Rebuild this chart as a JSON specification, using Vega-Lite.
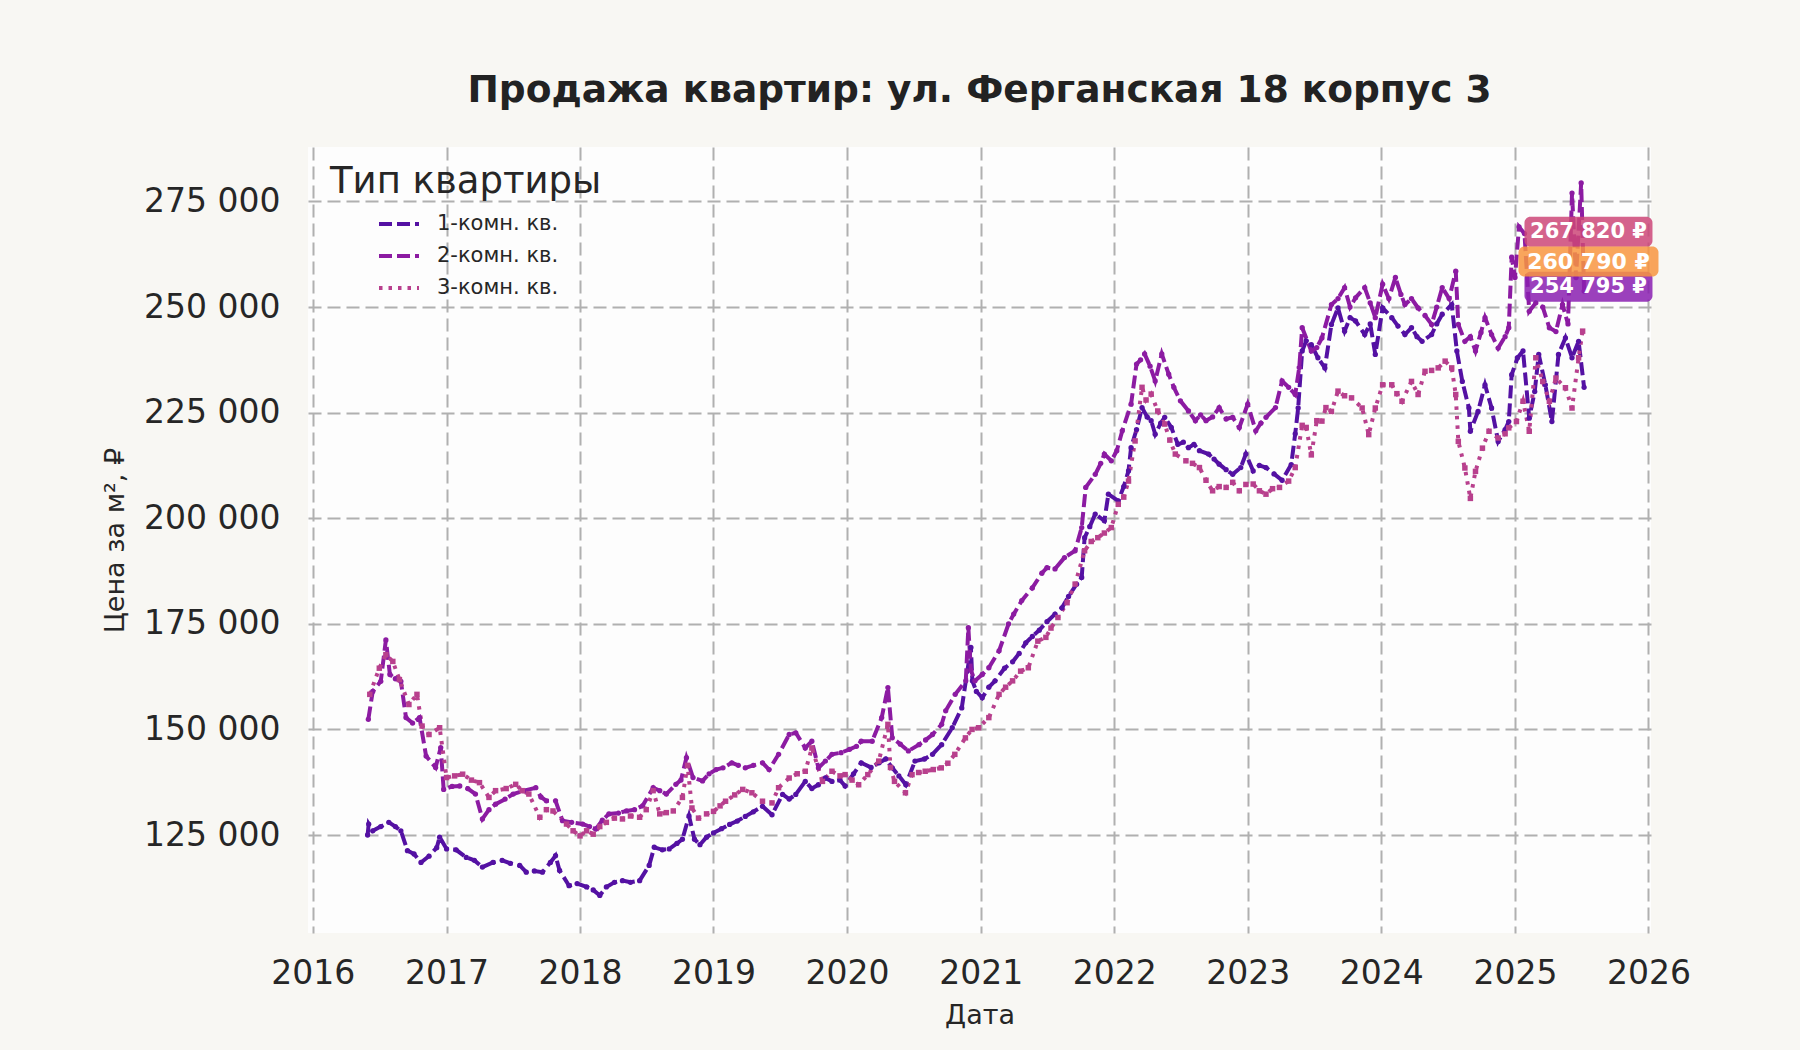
{
"$schema": "https://vega.github.io/schema/vega-lite/v6.json",
"width": 1343, "height": 786,
"autosize": "none",
"padding": {"left": 308, "top": 147, "right": 149, "bottom": 117},
"background": "#f8f7f3",
"title": {"text": "Продажа квартир: ул. Ферганская 18 корпус 3", "fontSize": 37.5, "fontWeight": "bold", "font": "DejaVu Sans", "color": "#222222", "offset": 38, "anchor": "middle"},
"config": {
  "view": {"fill": "#fdfdfd", "stroke": null},
  "font": "DejaVu Sans",
  "axis": {"gridColor": "#b0b0b0", "gridDash": [13, 6], "gridWidth": 2, "domain": false, "ticks": false, "labelColor": "#262626", "titleColor": "#262626", "labelFont": "DejaVu Sans", "titleFont": "DejaVu Sans", "titleFontWeight": "normal", "labelFontSize": 33, "titleFontSize": 27}
},
"datasets": {
"prices": [
{"s":"1-комн. кв.","d":"2016-05-30","v":125000},{"s":"1-комн. кв.","d":"2016-06-02","v":127600},{"s":"1-комн. кв.","d":"2016-06-13","v":126000},{"s":"1-комн. кв.","d":"2016-07-05","v":127000},{"s":"1-комн. кв.","d":"2016-07-27","v":128000},{"s":"1-комн. кв.","d":"2016-08-14","v":127000},{"s":"1-комн. кв.","d":"2016-08-29","v":126000},{"s":"1-комн. кв.","d":"2016-09-16","v":121300},{"s":"1-комн. кв.","d":"2016-10-04","v":120500},{"s":"1-комн. кв.","d":"2016-10-23","v":118500},{"s":"1-комн. кв.","d":"2016-11-14","v":120000},{"s":"1-комн. кв.","d":"2016-12-05","v":122000},{"s":"1-комн. кв.","d":"2016-12-13","v":124500},{"s":"1-комн. кв.","d":"2017-01-01","v":121700},{"s":"1-комн. кв.","d":"2017-01-27","v":121500},{"s":"1-комн. кв.","d":"2017-02-24","v":119700},{"s":"1-комн. кв.","d":"2017-03-18","v":119000},{"s":"1-комн. кв.","d":"2017-04-09","v":117400},{"s":"1-комн. кв.","d":"2017-05-08","v":118500},{"s":"1-комн. кв.","d":"2017-06-02","v":119000},{"s":"1-комн. кв.","d":"2017-06-24","v":118300},{"s":"1-комн. кв.","d":"2017-07-20","v":117800},{"s":"1-комн. кв.","d":"2017-08-07","v":116200},{"s":"1-комн. кв.","d":"2017-08-29","v":116500},{"s":"1-комн. кв.","d":"2017-09-20","v":116200},{"s":"1-комн. кв.","d":"2017-10-12","v":118500},{"s":"1-комн. кв.","d":"2017-10-26","v":120100},{"s":"1-комн. кв.","d":"2017-11-06","v":116600},{"s":"1-комн. кв.","d":"2017-12-02","v":113000},{"s":"1-комн. кв.","d":"2017-12-24","v":113500},{"s":"1-комн. кв.","d":"2018-01-19","v":112700},{"s":"1-комн. кв.","d":"2018-02-06","v":112000},{"s":"1-комн. кв.","d":"2018-02-24","v":110700},{"s":"1-комн. кв.","d":"2018-03-14","v":112700},{"s":"1-комн. кв.","d":"2018-04-05","v":113800},{"s":"1-комн. кв.","d":"2018-04-27","v":114200},{"s":"1-комн. кв.","d":"2018-05-19","v":113800},{"s":"1-комн. кв.","d":"2018-06-13","v":114200},{"s":"1-комн. кв.","d":"2018-07-09","v":117800},{"s":"1-комн. кв.","d":"2018-07-23","v":122100},{"s":"1-комн. кв.","d":"2018-08-14","v":121500},{"s":"1-комн. кв.","d":"2018-09-02","v":121700},{"s":"1-комн. кв.","d":"2018-09-23","v":123000},{"s":"1-комн. кв.","d":"2018-10-08","v":124000},{"s":"1-комн. кв.","d":"2018-10-26","v":129500},{"s":"1-комн. кв.","d":"2018-11-10","v":124000},{"s":"1-комн. кв.","d":"2018-11-25","v":122700},{"s":"1-комн. кв.","d":"2018-12-13","v":124500},{"s":"1-комн. кв.","d":"2019-01-01","v":125500},{"s":"1-комн. кв.","d":"2019-01-23","v":126500},{"s":"1-комн. кв.","d":"2019-02-14","v":127500},{"s":"1-комн. кв.","d":"2019-03-07","v":128300},{"s":"1-комн. кв.","d":"2019-03-29","v":129400},{"s":"1-комн. кв.","d":"2019-04-20","v":130500},{"s":"1-комн. кв.","d":"2019-05-15","v":131800},{"s":"1-комн. кв.","d":"2019-06-10","v":129800},{"s":"1-комн. кв.","d":"2019-07-09","v":134600},{"s":"1-комн. кв.","d":"2019-07-27","v":133500},{"s":"1-комн. кв.","d":"2019-08-14","v":134600},{"s":"1-комн. кв.","d":"2019-09-09","v":137700},{"s":"1-комн. кв.","d":"2019-09-27","v":136000},{"s":"1-комн. кв.","d":"2019-10-15","v":136900},{"s":"1-комн. кв.","d":"2019-11-03","v":138500},{"s":"1-комн. кв.","d":"2019-11-21","v":137700},{"s":"1-комн. кв.","d":"2019-12-13","v":138000},{"s":"1-комн. кв.","d":"2019-12-27","v":136600},{"s":"1-комн. кв.","d":"2020-01-19","v":139500},{"s":"1-комн. кв.","d":"2020-02-09","v":142100},{"s":"1-комн. кв.","d":"2020-03-07","v":141000},{"s":"1-комн. кв.","d":"2020-03-29","v":142100},{"s":"1-комн. кв.","d":"2020-04-16","v":143000},{"s":"1-комн. кв.","d":"2020-05-04","v":140900},{"s":"1-комн. кв.","d":"2020-05-22","v":139000},{"s":"1-комн. кв.","d":"2020-06-10","v":136900},{"s":"1-комн. кв.","d":"2020-07-05","v":142500},{"s":"1-комн. кв.","d":"2020-07-31","v":143000},{"s":"1-комн. кв.","d":"2020-08-22","v":144100},{"s":"1-комн. кв.","d":"2020-09-16","v":146400},{"s":"1-комн. кв.","d":"2020-10-15","v":150400},{"s":"1-комн. кв.","d":"2020-11-10","v":155100},{"s":"1-комн. кв.","d":"2020-12-05","v":169400},{"s":"1-комн. кв.","d":"2020-12-09","v":161500},{"s":"1-комн. кв.","d":"2020-12-20","v":159000},{"s":"1-комн. кв.","d":"2021-01-05","v":157500},{"s":"1-комн. кв.","d":"2021-01-23","v":160000},{"s":"1-комн. кв.","d":"2021-02-09","v":161500},{"s":"1-комн. кв.","d":"2021-03-07","v":164500},{"s":"1-комн. кв.","d":"2021-03-29","v":166000},{"s":"1-комн. кв.","d":"2021-04-16","v":168000},{"s":"1-комн. кв.","d":"2021-05-04","v":170500},{"s":"1-комн. кв.","d":"2021-05-22","v":172000},{"s":"1-комн. кв.","d":"2021-06-10","v":173500},{"s":"1-комн. кв.","d":"2021-07-01","v":175500},{"s":"1-комн. кв.","d":"2021-07-23","v":177300},{"s":"1-комн. кв.","d":"2021-08-11","v":178800},{"s":"1-комн. кв.","d":"2021-08-29","v":181500},{"s":"1-комн. кв.","d":"2021-09-20","v":184400},{"s":"1-комн. кв.","d":"2021-10-04","v":186000},{"s":"1-комн. кв.","d":"2021-10-12","v":195400},{"s":"1-комн. кв.","d":"2021-10-26","v":198000},{"s":"1-комн. кв.","d":"2021-11-10","v":201000},{"s":"1-комн. кв.","d":"2021-12-05","v":199400},{"s":"1-комн. кв.","d":"2021-12-16","v":205700},{"s":"1-комн. кв.","d":"2022-01-12","v":204100},{"s":"1-комн. кв.","d":"2022-01-27","v":207500},{"s":"1-комн. кв.","d":"2022-02-09","v":211200},{"s":"1-комн. кв.","d":"2022-02-16","v":216700},{"s":"1-комн. кв.","d":"2022-03-03","v":221000},{"s":"1-комн. кв.","d":"2022-03-18","v":226200},{"s":"1-комн. кв.","d":"2022-04-01","v":224000},{"s":"1-комн. кв.","d":"2022-04-12","v":223100},{"s":"1-комн. кв.","d":"2022-04-23","v":219900},{"s":"1-комн. кв.","d":"2022-05-08","v":222500},{"s":"1-комн. кв.","d":"2022-05-19","v":223900},{"s":"1-комн. кв.","d":"2022-06-06","v":221500},{"s":"1-комн. кв.","d":"2022-06-24","v":217500},{"s":"1-комн. кв.","d":"2022-07-09","v":218000},{"s":"1-комн. кв.","d":"2022-07-23","v":216700},{"s":"1-комн. кв.","d":"2022-08-07","v":217500},{"s":"1-комн. кв.","d":"2022-08-22","v":216000},{"s":"1-комн. кв.","d":"2022-09-16","v":215200},{"s":"1-комн. кв.","d":"2022-10-01","v":214000},{"s":"1-комн. кв.","d":"2022-10-15","v":212800},{"s":"1-комн. кв.","d":"2022-11-03","v":211500},{"s":"1-комн. кв.","d":"2022-11-21","v":210400},{"s":"1-комн. кв.","d":"2022-12-13","v":212000},{"s":"1-комн. кв.","d":"2022-12-27","v":215200},{"s":"1-комн. кв.","d":"2023-01-16","v":211200},{"s":"1-комн. кв.","d":"2023-02-02","v":212500},{"s":"1-комн. кв.","d":"2023-02-20","v":212000},{"s":"1-комн. кв.","d":"2023-03-14","v":210500},{"s":"1-комн. кв.","d":"2023-04-05","v":209000},{"s":"1-комн. кв.","d":"2023-04-30","v":212700},{"s":"1-комн. кв.","d":"2023-05-11","v":220000},{"s":"1-комн. кв.","d":"2023-05-19","v":226100},{"s":"1-комн. кв.","d":"2023-05-30","v":239600},{"s":"1-комн. кв.","d":"2023-06-10","v":242000},{"s":"1-комн. кв.","d":"2023-06-24","v":241100},{"s":"1-комн. кв.","d":"2023-07-12","v":238000},{"s":"1-комн. кв.","d":"2023-07-31","v":235600},{"s":"1-комн. кв.","d":"2023-08-18","v":245900},{"s":"1-комн. кв.","d":"2023-09-05","v":249800},{"s":"1-комн. кв.","d":"2023-09-23","v":244300},{"s":"1-комн. кв.","d":"2023-10-08","v":247500},{"s":"1-комн. кв.","d":"2023-10-23","v":246700},{"s":"1-комн. кв.","d":"2023-11-17","v":243500},{"s":"1-комн. кв.","d":"2023-12-02","v":246000},{"s":"1-комн. кв.","d":"2023-12-16","v":238800},{"s":"1-комн. кв.","d":"2024-01-05","v":249800},{"s":"1-комн. кв.","d":"2024-01-30","v":247500},{"s":"1-комн. кв.","d":"2024-02-16","v":245500},{"s":"1-комн. кв.","d":"2024-03-06","v":243500},{"s":"1-комн. кв.","d":"2024-03-24","v":245100},{"s":"1-комн. кв.","d":"2024-04-08","v":243000},{"s":"1-комн. кв.","d":"2024-04-22","v":241900},{"s":"1-комн. кв.","d":"2024-05-18","v":243500},{"s":"1-комн. кв.","d":"2024-06-01","v":246000},{"s":"1-комн. кв.","d":"2024-06-16","v":248300},{"s":"1-комн. кв.","d":"2024-07-12","v":250600},{"s":"1-комн. кв.","d":"2024-07-26","v":239600},{"s":"1-комн. кв.","d":"2024-08-10","v":232400},{"s":"1-комн. кв.","d":"2024-08-28","v":226100},{"s":"1-комн. кв.","d":"2024-09-01","v":220600},{"s":"1-комн. кв.","d":"2024-09-22","v":225300},{"s":"1-комн. кв.","d":"2024-10-11","v":231600},{"s":"1-комн. кв.","d":"2024-10-29","v":226100},{"s":"1-комн. кв.","d":"2024-11-16","v":218200},{"s":"1-комн. кв.","d":"2024-12-05","v":221000},{"s":"1-комн. кв.","d":"2024-12-15","v":222900},{"s":"1-комн. кв.","d":"2024-12-23","v":234000},{"s":"1-комн. кв.","d":"2025-01-08","v":238000},{"s":"1-комн. кв.","d":"2025-01-23","v":239600},{"s":"1-комн. кв.","d":"2025-02-09","v":223700},{"s":"1-комн. кв.","d":"2025-02-24","v":230000},{"s":"1-комн. кв.","d":"2025-03-07","v":238800},{"s":"1-комн. кв.","d":"2025-03-25","v":231600},{"s":"1-комн. кв.","d":"2025-04-12","v":222900},{"s":"1-комн. кв.","d":"2025-04-30","v":238800},{"s":"1-комн. кв.","d":"2025-05-19","v":242700},{"s":"1-комн. кв.","d":"2025-06-06","v":238000},{"s":"1-комн. кв.","d":"2025-06-24","v":241900},{"s":"1-комн. кв.","d":"2025-07-09","v":231000},
{"s":"2-комн. кв.","d":"2016-06-01","v":152400},{"s":"2-комн. кв.","d":"2016-06-13","v":159000},{"s":"2-комн. кв.","d":"2016-07-05","v":161400},{"s":"2-комн. кв.","d":"2016-07-19","v":171200},{"s":"2-комн. кв.","d":"2016-07-30","v":163000},{"s":"2-комн. кв.","d":"2016-08-14","v":162000},{"s":"2-комн. кв.","d":"2016-08-29","v":161400},{"s":"2-комн. кв.","d":"2016-09-12","v":152800},{"s":"2-комн. кв.","d":"2016-09-30","v":151500},{"s":"2-комн. кв.","d":"2016-10-19","v":152800},{"s":"2-комн. кв.","d":"2016-11-06","v":143700},{"s":"2-комн. кв.","d":"2016-12-02","v":141000},{"s":"2-комн. кв.","d":"2016-12-16","v":145700},{"s":"2-комн. кв.","d":"2016-12-24","v":135800},{"s":"2-комн. кв.","d":"2017-01-16","v":136500},{"s":"2-комн. кв.","d":"2017-02-06","v":136600},{"s":"2-комн. кв.","d":"2017-02-28","v":136000},{"s":"2-комн. кв.","d":"2017-03-21","v":134700},{"s":"2-комн. кв.","d":"2017-04-09","v":128800},{"s":"2-комн. кв.","d":"2017-04-27","v":131000},{"s":"2-комн. кв.","d":"2017-05-15","v":132300},{"s":"2-комн. кв.","d":"2017-06-10","v":133500},{"s":"2-комн. кв.","d":"2017-07-02","v":134700},{"s":"2-комн. кв.","d":"2017-07-31","v":135500},{"s":"2-комн. кв.","d":"2017-09-02","v":136200},{"s":"2-комн. кв.","d":"2017-09-16","v":134000},{"s":"2-комн. кв.","d":"2017-10-01","v":133100},{"s":"2-комн. кв.","d":"2017-10-26","v":133100},{"s":"2-комн. кв.","d":"2017-11-14","v":128400},{"s":"2-комн. кв.","d":"2017-12-09","v":128000},{"s":"2-комн. кв.","d":"2018-01-08","v":127600},{"s":"2-комн. кв.","d":"2018-01-27","v":127000},{"s":"2-комн. кв.","d":"2018-02-13","v":126400},{"s":"2-комн. кв.","d":"2018-03-03","v":128500},{"s":"2-комн. кв.","d":"2018-03-21","v":130000},{"s":"2-комн. кв.","d":"2018-04-16","v":130200},{"s":"2-комн. кв.","d":"2018-05-08","v":130700},{"s":"2-комн. кв.","d":"2018-05-30","v":131000},{"s":"2-комн. кв.","d":"2018-06-21","v":131900},{"s":"2-комн. кв.","d":"2018-07-20","v":136200},{"s":"2-комн. кв.","d":"2018-08-07","v":135500},{"s":"2-комн. кв.","d":"2018-08-25","v":134700},{"s":"2-комн. кв.","d":"2018-09-20","v":137000},{"s":"2-комн. кв.","d":"2018-10-04","v":138000},{"s":"2-комн. кв.","d":"2018-10-19","v":143300},{"s":"2-комн. кв.","d":"2018-11-06","v":138600},{"s":"2-комн. кв.","d":"2018-12-02","v":137800},{"s":"2-комн. кв.","d":"2018-12-20","v":139500},{"s":"2-комн. кв.","d":"2019-01-08","v":140500},{"s":"2-комн. кв.","d":"2019-01-27","v":140900},{"s":"2-комн. кв.","d":"2019-02-20","v":142100},{"s":"2-комн. кв.","d":"2019-03-10","v":141500},{"s":"2-комн. кв.","d":"2019-03-29","v":140900},{"s":"2-комн. кв.","d":"2019-04-20","v":141500},{"s":"2-комн. кв.","d":"2019-05-15","v":142100},{"s":"2-комн. кв.","d":"2019-06-02","v":140500},{"s":"2-комн. кв.","d":"2019-06-28","v":144100},{"s":"2-комн. кв.","d":"2019-07-27","v":148800},{"s":"2-комн. кв.","d":"2019-08-14","v":149200},{"s":"2-комн. кв.","d":"2019-09-09","v":145600},{"s":"2-комн. кв.","d":"2019-09-27","v":147200},{"s":"2-комн. кв.","d":"2019-10-15","v":140900},{"s":"2-комн. кв.","d":"2019-11-03","v":142500},{"s":"2-комн. кв.","d":"2019-11-21","v":144100},{"s":"2-комн. кв.","d":"2019-12-16","v":144500},{"s":"2-комн. кв.","d":"2020-01-08","v":145300},{"s":"2-комн. кв.","d":"2020-01-27","v":146000},{"s":"2-комн. кв.","d":"2020-02-09","v":147200},{"s":"2-комн. кв.","d":"2020-03-10","v":147200},{"s":"2-комн. кв.","d":"2020-04-05","v":152800},{"s":"2-комн. кв.","d":"2020-04-22","v":159900},{"s":"2-комн. кв.","d":"2020-05-04","v":148000},{"s":"2-комн. кв.","d":"2020-05-26","v":146500},{"s":"2-комн. кв.","d":"2020-06-17","v":144900},{"s":"2-комн. кв.","d":"2020-07-16","v":146400},{"s":"2-комн. кв.","d":"2020-08-03","v":147500},{"s":"2-комн. кв.","d":"2020-08-22","v":148800},{"s":"2-комн. кв.","d":"2020-09-16","v":151200},{"s":"2-комн. кв.","d":"2020-09-27","v":154400},{"s":"2-комн. кв.","d":"2020-10-23","v":158300},{"s":"2-комн. кв.","d":"2020-11-21","v":161500},{"s":"2-комн. кв.","d":"2020-11-28","v":174100},{"s":"2-комн. кв.","d":"2020-12-05","v":164000},{"s":"2-комн. кв.","d":"2020-12-16","v":161500},{"s":"2-комн. кв.","d":"2021-01-05","v":163000},{"s":"2-комн. кв.","d":"2021-01-23","v":164600},{"s":"2-комн. кв.","d":"2021-02-20","v":168600},{"s":"2-комн. кв.","d":"2021-03-18","v":175000},{"s":"2-комн. кв.","d":"2021-04-01","v":177300},{"s":"2-комн. кв.","d":"2021-04-23","v":180500},{"s":"2-комн. кв.","d":"2021-05-22","v":183500},{"s":"2-комн. кв.","d":"2021-06-17","v":187000},{"s":"2-комн. кв.","d":"2021-07-01","v":188300},{"s":"2-комн. кв.","d":"2021-07-23","v":188000},{"s":"2-комн. кв.","d":"2021-08-18","v":190700},{"s":"2-комн. кв.","d":"2021-09-16","v":192300},{"s":"2-комн. кв.","d":"2021-10-04","v":197800},{"s":"2-комн. кв.","d":"2021-10-15","v":207300},{"s":"2-комн. кв.","d":"2021-11-10","v":210400},{"s":"2-комн. кв.","d":"2021-11-25","v":213000},{"s":"2-комн. кв.","d":"2021-12-05","v":215200},{"s":"2-комн. кв.","d":"2021-12-24","v":213600},{"s":"2-комн. кв.","d":"2022-01-08","v":216000},{"s":"2-комн. кв.","d":"2022-01-23","v":220700},{"s":"2-комн. кв.","d":"2022-02-16","v":227000},{"s":"2-комн. кв.","d":"2022-03-03","v":236500},{"s":"2-комн. кв.","d":"2022-03-14","v":237500},{"s":"2-комн. кв.","d":"2022-03-25","v":238900},{"s":"2-комн. кв.","d":"2022-04-09","v":236000},{"s":"2-комн. кв.","d":"2022-04-23","v":232500},{"s":"2-комн. кв.","d":"2022-05-11","v":238900},{"s":"2-комн. кв.","d":"2022-05-30","v":234100},{"s":"2-комн. кв.","d":"2022-06-13","v":231000},{"s":"2-комн. кв.","d":"2022-07-01","v":227800},{"s":"2-комн. кв.","d":"2022-07-23","v":225400},{"s":"2-комн. кв.","d":"2022-08-11","v":223100},{"s":"2-комн. кв.","d":"2022-08-25","v":224500},{"s":"2-комн. кв.","d":"2022-09-09","v":223100},{"s":"2-комн. кв.","d":"2022-09-27","v":224000},{"s":"2-комн. кв.","d":"2022-10-15","v":226200},{"s":"2-комн. кв.","d":"2022-11-03","v":223500},{"s":"2-комн. кв.","d":"2022-11-21","v":223900},{"s":"2-комн. кв.","d":"2022-12-09","v":221500},{"s":"2-комн. кв.","d":"2023-01-01","v":227000},{"s":"2-комн. кв.","d":"2023-01-23","v":220700},{"s":"2-комн. кв.","d":"2023-02-06","v":222500},{"s":"2-комн. кв.","d":"2023-02-20","v":223900},{"s":"2-комн. кв.","d":"2023-03-18","v":226200},{"s":"2-комн. кв.","d":"2023-04-05","v":232500},{"s":"2-комн. кв.","d":"2023-04-23","v":231000},{"s":"2-комн. кв.","d":"2023-05-11","v":229300},{"s":"2-комн. кв.","d":"2023-05-22","v":235700},{"s":"2-комн. кв.","d":"2023-05-30","v":245100},{"s":"2-комн. кв.","d":"2023-06-24","v":239600},{"s":"2-комн. кв.","d":"2023-07-09","v":240400},{"s":"2-комн. кв.","d":"2023-07-23","v":242700},{"s":"2-комн. кв.","d":"2023-08-18","v":250600},{"s":"2-комн. кв.","d":"2023-09-05","v":252000},{"s":"2-комн. кв.","d":"2023-09-23","v":254600},{"s":"2-комн. кв.","d":"2023-10-08","v":250000},{"s":"2-комн. кв.","d":"2023-10-23","v":252200},{"s":"2-комн. кв.","d":"2023-11-17","v":254600},{"s":"2-комн. кв.","d":"2023-12-02","v":251000},{"s":"2-комн. кв.","d":"2023-12-16","v":247500},{"s":"2-комн. кв.","d":"2024-01-05","v":255400},{"s":"2-комн. кв.","d":"2024-01-22","v":252000},{"s":"2-комн. кв.","d":"2024-02-09","v":257000},{"s":"2-комн. кв.","d":"2024-02-24","v":253000},{"s":"2-комн. кв.","d":"2024-03-06","v":250600},{"s":"2-комн. кв.","d":"2024-03-24","v":252000},{"s":"2-комн. кв.","d":"2024-04-11","v":249800},{"s":"2-комн. кв.","d":"2024-04-30","v":248000},{"s":"2-комн. кв.","d":"2024-05-18","v":245900},{"s":"2-комн. кв.","d":"2024-06-01","v":250000},{"s":"2-комн. кв.","d":"2024-06-16","v":254600},{"s":"2-комн. кв.","d":"2024-07-05","v":252000},{"s":"2-комн. кв.","d":"2024-07-23","v":258500},{"s":"2-комн. кв.","d":"2024-07-30","v":245900},{"s":"2-комн. кв.","d":"2024-08-17","v":241900},{"s":"2-комн. кв.","d":"2024-09-01","v":243000},{"s":"2-комн. кв.","d":"2024-09-15","v":239600},{"s":"2-комн. кв.","d":"2024-09-30","v":244000},{"s":"2-комн. кв.","d":"2024-10-11","v":247500},{"s":"2-комн. кв.","d":"2024-10-29","v":243500},{"s":"2-комн. кв.","d":"2024-11-16","v":240300},{"s":"2-комн. кв.","d":"2024-12-05","v":243000},{"s":"2-комн. кв.","d":"2024-12-15","v":245100},{"s":"2-комн. кв.","d":"2024-12-23","v":261800},{"s":"2-комн. кв.","d":"2025-01-01","v":257000},{"s":"2-комн. кв.","d":"2025-01-12","v":269000},{"s":"2-комн. кв.","d":"2025-01-27","v":267400},{"s":"2-комн. кв.","d":"2025-02-09","v":249000},{"s":"2-комн. кв.","d":"2025-02-27","v":251000},{"s":"2-комн. кв.","d":"2025-03-18","v":250000},{"s":"2-комн. кв.","d":"2025-04-05","v":245100},{"s":"2-комн. кв.","d":"2025-04-23","v":244200},{"s":"2-комн. кв.","d":"2025-05-11","v":250600},{"s":"2-комн. кв.","d":"2025-05-26","v":246000},{"s":"2-комн. кв.","d":"2025-06-06","v":277000},{"s":"2-комн. кв.","d":"2025-06-17","v":257000},{"s":"2-комн. кв.","d":"2025-07-01","v":279400},{"s":"2-комн. кв.","d":"2025-07-09","v":253800},
{"s":"3-комн. кв.","d":"2016-06-05","v":158300},{"s":"3-комн. кв.","d":"2016-07-01","v":164500},{"s":"3-комн. кв.","d":"2016-07-19","v":167700},{"s":"3-комн. кв.","d":"2016-08-07","v":166100},{"s":"3-комн. кв.","d":"2016-08-25","v":161800},{"s":"3-комн. кв.","d":"2016-09-20","v":155900},{"s":"3-комн. кв.","d":"2016-10-12","v":158300},{"s":"3-комн. кв.","d":"2016-10-26","v":150800},{"s":"3-комн. кв.","d":"2016-11-14","v":148800},{"s":"3-комн. кв.","d":"2016-12-13","v":150400},{"s":"3-комн. кв.","d":"2017-01-01","v":138600},{"s":"3-комн. кв.","d":"2017-01-23","v":139000},{"s":"3-комн. кв.","d":"2017-02-14","v":139400},{"s":"3-комн. кв.","d":"2017-03-10","v":138000},{"s":"3-комн. кв.","d":"2017-04-01","v":137400},{"s":"3-комн. кв.","d":"2017-04-27","v":133900},{"s":"3-комн. кв.","d":"2017-05-15","v":135500},{"s":"3-комн. кв.","d":"2017-06-13","v":136000},{"s":"3-комн. кв.","d":"2017-07-09","v":137000},{"s":"3-комн. кв.","d":"2017-07-27","v":135500},{"s":"3-комн. кв.","d":"2017-08-14","v":134700},{"s":"3-комн. кв.","d":"2017-09-13","v":129200},{"s":"3-комн. кв.","d":"2017-10-01","v":131000},{"s":"3-комн. кв.","d":"2017-10-19","v":130700},{"s":"3-комн. кв.","d":"2017-11-25","v":127600},{"s":"3-комн. кв.","d":"2017-12-13","v":126000},{"s":"3-комн. кв.","d":"2018-01-01","v":124800},{"s":"3-комн. кв.","d":"2018-01-19","v":126000},{"s":"3-комн. кв.","d":"2018-02-06","v":125200},{"s":"3-комн. кв.","d":"2018-02-24","v":127000},{"s":"3-комн. кв.","d":"2018-03-14","v":128000},{"s":"3-комн. кв.","d":"2018-04-05","v":129000},{"s":"3-комн. кв.","d":"2018-04-27","v":128800},{"s":"3-комн. кв.","d":"2018-05-19","v":129500},{"s":"3-комн. кв.","d":"2018-06-13","v":129200},{"s":"3-комн. кв.","d":"2018-07-01","v":131000},{"s":"3-комн. кв.","d":"2018-07-20","v":135500},{"s":"3-комн. кв.","d":"2018-08-07","v":130000},{"s":"3-комн. кв.","d":"2018-08-25","v":130300},{"s":"3-комн. кв.","d":"2018-09-13","v":130700},{"s":"3-комн. кв.","d":"2018-10-08","v":133900},{"s":"3-комн. кв.","d":"2018-10-22","v":141500},{"s":"3-комн. кв.","d":"2018-11-03","v":131400},{"s":"3-комн. кв.","d":"2018-11-21","v":129000},{"s":"3-комн. кв.","d":"2018-12-13","v":130000},{"s":"3-комн. кв.","d":"2019-01-01","v":130600},{"s":"3-комн. кв.","d":"2019-01-19","v":131900},{"s":"3-комн. кв.","d":"2019-02-03","v":133000},{"s":"3-комн. кв.","d":"2019-02-28","v":134500},{"s":"3-комн. кв.","d":"2019-03-22","v":135800},{"s":"3-комн. кв.","d":"2019-04-16","v":135000},{"s":"3-комн. кв.","d":"2019-05-15","v":133000},{"s":"3-комн. кв.","d":"2019-06-10","v":132600},{"s":"3-комн. кв.","d":"2019-06-28","v":136200},{"s":"3-комн. кв.","d":"2019-07-27","v":138500},{"s":"3-комн. кв.","d":"2019-08-18","v":139500},{"s":"3-комн. кв.","d":"2019-09-09","v":140100},{"s":"3-комн. кв.","d":"2019-09-27","v":145600},{"s":"3-комн. кв.","d":"2019-10-26","v":137700},{"s":"3-комн. кв.","d":"2019-11-21","v":140100},{"s":"3-комн. кв.","d":"2019-12-13","v":139000},{"s":"3-комн. кв.","d":"2019-12-27","v":139300},{"s":"3-комн. кв.","d":"2020-01-15","v":138000},{"s":"3-комн. кв.","d":"2020-02-02","v":136900},{"s":"3-комн. кв.","d":"2020-02-27","v":139300},{"s":"3-комн. кв.","d":"2020-03-28","v":142500},{"s":"3-комн. кв.","d":"2020-04-22","v":151200},{"s":"3-комн. кв.","d":"2020-04-29","v":141000},{"s":"3-комн. кв.","d":"2020-05-10","v":137700},{"s":"3-комн. кв.","d":"2020-06-09","v":135000},{"s":"3-комн. кв.","d":"2020-06-27","v":139300},{"s":"3-комн. кв.","d":"2020-07-15","v":139800},{"s":"3-комн. кв.","d":"2020-08-02","v":140100},{"s":"3-комн. кв.","d":"2020-08-24","v":140500},{"s":"3-комн. кв.","d":"2020-09-15","v":140900},{"s":"3-комн. кв.","d":"2020-10-03","v":142000},{"s":"3-комн. кв.","d":"2020-10-22","v":144100},{"s":"3-комн. кв.","d":"2020-11-20","v":148000},{"s":"3-комн. кв.","d":"2020-12-08","v":150000},{"s":"3-комн. кв.","d":"2020-12-26","v":150400},{"s":"3-комн. кв.","d":"2021-01-23","v":152800},{"s":"3-комн. кв.","d":"2021-02-20","v":158300},{"s":"3-комн. кв.","d":"2021-03-10","v":160000},{"s":"3-комн. кв.","d":"2021-03-29","v":161500},{"s":"3-комн. кв.","d":"2021-04-20","v":163800},{"s":"3-комн. кв.","d":"2021-05-11","v":164600},{"s":"3-комн. кв.","d":"2021-06-06","v":170900},{"s":"3-комн. кв.","d":"2021-06-28","v":171800},{"s":"3-комн. кв.","d":"2021-07-12","v":174000},{"s":"3-комн. кв.","d":"2021-07-31","v":176500},{"s":"3-комн. кв.","d":"2021-08-25","v":180000},{"s":"3-комн. кв.","d":"2021-09-16","v":184400},{"s":"3-комн. кв.","d":"2021-10-12","v":192300},{"s":"3-комн. кв.","d":"2021-10-30","v":194500},{"s":"3-комн. кв.","d":"2021-11-17","v":195400},{"s":"3-комн. кв.","d":"2021-12-05","v":196500},{"s":"3-комн. кв.","d":"2021-12-24","v":197800},{"s":"3-комн. кв.","d":"2022-01-12","v":203300},{"s":"3-комн. кв.","d":"2022-01-27","v":205000},{"s":"3-комн. кв.","d":"2022-02-09","v":208800},{"s":"3-комн. кв.","d":"2022-02-27","v":218300},{"s":"3-комн. кв.","d":"2022-03-18","v":231000},{"s":"3-комн. кв.","d":"2022-03-29","v":228000},{"s":"3-комн. кв.","d":"2022-04-12","v":229400},{"s":"3-комн. кв.","d":"2022-04-30","v":225400},{"s":"3-комн. кв.","d":"2022-05-19","v":222300},{"s":"3-комн. кв.","d":"2022-06-02","v":218500},{"s":"3-комн. кв.","d":"2022-06-17","v":215200},{"s":"3-комн. кв.","d":"2022-07-16","v":213600},{"s":"3-комн. кв.","d":"2022-08-03","v":213000},{"s":"3-комн. кв.","d":"2022-08-22","v":212000},{"s":"3-комн. кв.","d":"2022-09-09","v":209000},{"s":"3-комн. кв.","d":"2022-09-27","v":206500},{"s":"3-комн. кв.","d":"2022-10-15","v":207500},{"s":"3-комн. кв.","d":"2022-11-03","v":207300},{"s":"3-комн. кв.","d":"2022-11-21","v":208500},{"s":"3-комн. кв.","d":"2022-12-09","v":206500},{"s":"3-комн. кв.","d":"2022-12-27","v":208000},{"s":"3-комн. кв.","d":"2023-01-16","v":208100},{"s":"3-комн. кв.","d":"2023-02-02","v":206500},{"s":"3-комн. кв.","d":"2023-02-20","v":205700},{"s":"3-комн. кв.","d":"2023-03-10","v":207000},{"s":"3-комн. кв.","d":"2023-03-29","v":207300},{"s":"3-комн. кв.","d":"2023-04-23","v":208800},{"s":"3-комн. кв.","d":"2023-05-11","v":212000},{"s":"3-комн. кв.","d":"2023-05-30","v":222000},{"s":"3-комн. кв.","d":"2023-06-10","v":221500},{"s":"3-комн. кв.","d":"2023-06-24","v":215000},{"s":"3-комн. кв.","d":"2023-07-09","v":223100},{"s":"3-комн. кв.","d":"2023-07-23","v":223000},{"s":"3-комн. кв.","d":"2023-08-03","v":226200},{"s":"3-комн. кв.","d":"2023-08-18","v":225300},{"s":"3-комн. кв.","d":"2023-09-05","v":230100},{"s":"3-комн. кв.","d":"2023-09-23","v":229000},{"s":"3-комн. кв.","d":"2023-10-12","v":228500},{"s":"3-комн. кв.","d":"2023-11-10","v":226100},{"s":"3-комн. кв.","d":"2023-11-28","v":219800},{"s":"3-комн. кв.","d":"2023-12-16","v":226100},{"s":"3-комн. кв.","d":"2024-01-05","v":231600},{"s":"3-комн. кв.","d":"2024-01-30","v":231600},{"s":"3-комн. кв.","d":"2024-02-13","v":229500},{"s":"3-комн. кв.","d":"2024-02-27","v":227700},{"s":"3-комн. кв.","d":"2024-03-24","v":232400},{"s":"3-комн. кв.","d":"2024-04-11","v":229300},{"s":"3-комн. кв.","d":"2024-04-30","v":234800},{"s":"3-комн. кв.","d":"2024-05-18","v":235000},{"s":"3-комн. кв.","d":"2024-06-05","v":235600},{"s":"3-комн. кв.","d":"2024-06-24","v":237200},{"s":"3-комн. кв.","d":"2024-07-12","v":235600},{"s":"3-комн. кв.","d":"2024-07-23","v":229300},{"s":"3-комн. кв.","d":"2024-07-30","v":218200},{"s":"3-комн. кв.","d":"2024-08-17","v":211900},{"s":"3-комн. кв.","d":"2024-09-01","v":204700},{"s":"3-комн. кв.","d":"2024-09-15","v":211100},{"s":"3-комн. кв.","d":"2024-10-04","v":216600},{"s":"3-комн. кв.","d":"2024-10-22","v":220600},{"s":"3-комн. кв.","d":"2024-11-16","v":219000},{"s":"3-комн. кв.","d":"2024-12-05","v":220000},{"s":"3-комн. кв.","d":"2024-12-15","v":221400},{"s":"3-комн. кв.","d":"2025-01-05","v":222900},{"s":"3-комн. кв.","d":"2025-01-23","v":227700},{"s":"3-комн. кв.","d":"2025-02-09","v":220600},{"s":"3-комн. кв.","d":"2025-02-27","v":238000},{"s":"3-комн. кв.","d":"2025-03-18","v":232400},{"s":"3-комн. кв.","d":"2025-04-05","v":227700},{"s":"3-комн. кв.","d":"2025-04-23","v":233200},{"s":"3-комн. кв.","d":"2025-05-19","v":230900},{"s":"3-комн. кв.","d":"2025-06-06","v":226100},{"s":"3-комн. кв.","d":"2025-06-24","v":238000},{"s":"3-комн. кв.","d":"2025-07-05","v":244300}
],
"labels": [
{"k":"c","d":"2025-07-21","v":254795,"t":"254 795 ₽"},
{"k":"a","d":"2025-07-21","v":267820,"t":"267 820 ₽"},
{"k":"b","d":"2025-07-21","v":260790,"t":"260 790 ₽"}
]
},
"layer": [
{
  "data": {"name": "prices"},
  "mark": {"type": "line", "strokeWidth": 4, "strokeCap": "butt"},
  "encoding": {
    "x": {"field": "d", "type": "temporal", "scale": {"domain": ["2015-12-19", "2026-01-08"]},
      "axis": {"title": "Дата", "format": "%Y", "tickCount": {"interval": "year", "step": 1}, "labelPadding": 24, "titlePadding": 12, "labelFlush": false, "labelOverlap": false}},
    "y": {"field": "v", "type": "quantitative", "scale": {"domain": [101800, 287900], "nice": false, "zero": false},
      "axis": {"title": "Цена за м², ₽", "values": [125000, 150000, 175000, 200000, 225000, 250000, 275000], "labelExpr": "replace(format(datum.value, ','), ',', ' ')", "labelPadding": 28, "titlePadding": 14}},
    "color": {"field": "s", "type": "nominal", "scale": {"domain": ["1-комн. кв.", "2-комн. кв.", "3-комн. кв."], "range": ["#5411a3", "#8c1ba2", "#b8408d"]},
      "legend": {"title": "Тип квартиры", "orient": "none", "legendX": 22, "legendY": 17, "titleFontSize": 37, "titleFontWeight": "normal", "titleColor": "#262626", "titleFont": "DejaVu Sans", "titleLimit": 600, "labelFontSize": 21, "labelColor": "#262626", "labelFont": "DejaVu Sans", "symbolType": "stroke", "symbolStrokeWidth": 4, "symbolSize": 1600, "symbolOffset": 47, "labelOffset": 16, "rowPadding": -2, "titlePadding": 1, "padding": 0}},
    "strokeDash": {"field": "s", "type": "nominal", "scale": {"domain": ["1-комн. кв.", "2-комн. кв.", "3-комн. кв."], "range": [[13, 5], [13, 5], [3.5, 6]]},
      "legend": {"title": "Тип квартиры"}}
  }
},
{
  "data": {"name": "prices"},
  "transform": [{"filter": "datum.s != '3-комн. кв.'"}],
  "mark": {"type": "point", "filled": true, "opacity": 1, "size": 28, "shape": "circle"},
  "encoding": {
    "x": {"field": "d", "type": "temporal"},
    "y": {"field": "v", "type": "quantitative"},
    "color": {"field": "s", "type": "nominal"}
  }
},
{
  "data": {"name": "prices"},
  "transform": [{"filter": "datum.s == '3-комн. кв.'"}],
  "mark": {"type": "point", "filled": true, "opacity": 1, "size": 30, "shape": "square"},
  "encoding": {
    "x": {"field": "d", "type": "temporal"},
    "y": {"field": "v", "type": "quantitative"},
    "color": {"field": "s", "type": "nominal"}
  }
},
{
  "data": {"name": "labels"},
  "transform": [{"filter": "datum.k != 'b'"}],
  "mark": {"type": "rect", "cornerRadius": 6, "xOffset": -64, "x2Offset": 64, "yOffset": -15, "y2Offset": 15, "opacity": 0.85},
  "encoding": {
    "x": {"field": "d", "type": "temporal"},
    "x2": {"field": "d"},
    "y": {"field": "v", "type": "quantitative"},
    "y2": {"field": "v"},
    "fill": {"field": "k", "type": "nominal", "scale": {"domain": ["a", "b", "c"], "range": ["#cc4778", "#f89540", "#8a1fb0"]}, "legend": null}
  }
},
{
  "data": {"name": "labels"},
  "transform": [{"filter": "datum.k != 'b'"}],
  "mark": {"type": "text", "fontSize": 21, "fontWeight": "bold", "color": "#ffffff", "align": "center", "baseline": "middle", "font": "DejaVu Sans"},
  "encoding": {
    "x": {"field": "d", "type": "temporal"},
    "y": {"field": "v", "type": "quantitative"},
    "text": {"field": "t"}
  }
},
{
  "data": {"name": "labels"},
  "transform": [{"filter": "datum.k == 'b'"}],
  "mark": {"type": "rect", "cornerRadius": 6, "xOffset": -70, "x2Offset": 70, "yOffset": -15, "y2Offset": 15, "opacity": 0.85},
  "encoding": {
    "x": {"field": "d", "type": "temporal"},
    "x2": {"field": "d"},
    "y": {"field": "v", "type": "quantitative"},
    "y2": {"field": "v"},
    "fill": {"field": "k", "type": "nominal", "legend": null}
  }
},
{
  "data": {"name": "labels"},
  "transform": [{"filter": "datum.k == 'b'"}],
  "mark": {"type": "text", "fontSize": 22, "fontWeight": "bold", "color": "#ffffff", "align": "center", "baseline": "middle", "font": "DejaVu Sans"},
  "encoding": {
    "x": {"field": "d", "type": "temporal"},
    "y": {"field": "v", "type": "quantitative"},
    "text": {"field": "t"}
  }
}
]
}
